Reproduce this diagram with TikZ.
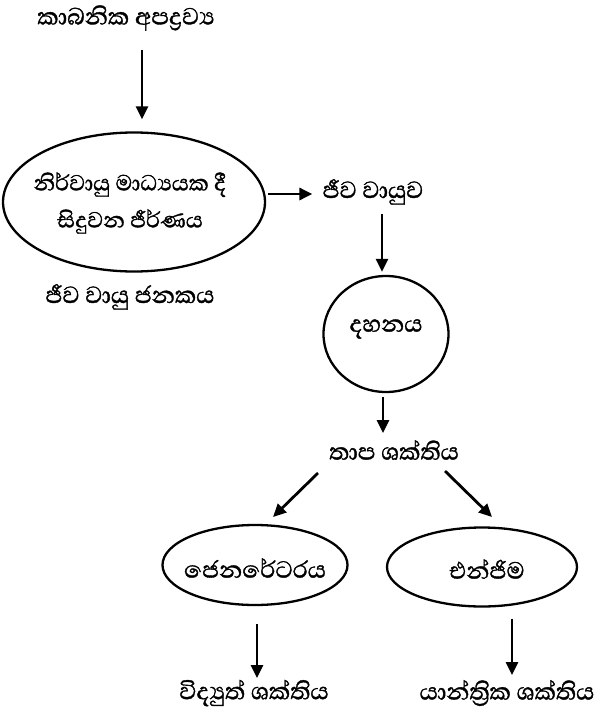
\documentclass[tikz,border=0pt]{standalone}
\usepackage{fontspec}
\newfontfamily\sinhalafont[Script=Sinhala, FakeBold=1.2]{Abhaya Libre}
\usetikzlibrary{arrows.meta,shapes.geometric,calc}
\begin{document}
\begin{tikzpicture}[x=1pt,y=-1pt,
  lbl/.style={font=\sinhalafont\fontsize{30}{37}\selectfont, inner sep=0pt, align=center},
  oval/.style={draw, line width=2.3pt, ellipse, inner sep=0pt},
  arr/.style={line width=2.8pt, -{Triangle[length=13pt,width=12pt]}}]
\useasboundingbox (0,0) rectangle (598,709);
\node[lbl] (t1) at (126,18) {කාබනික අපද්^^^^200dරව්^^^^200dය};
\node[oval, minimum width=262pt, minimum height=139pt] (e1) at (134,202) {};
\node[lbl, font=\sinhalafont\fontsize{28}{37}\selectfont] (e1t) at (130,203) {නිර්වායු මාධ්^^^^200dයයක දී\\සිදුවන ජීර්ණය};
\node[lbl] (gen) at (130,297) {ජීව වායු ජනකය};
\node[lbl] (gas) at (373,192) {ජීව වායුව};
\node[oval, minimum width=125pt, minimum height=116pt] (c1) at (386,334) {};
\node[lbl] (c1t) at (386,329) {දහනය};
\node[lbl] (heat) at (394,450) {තාප ශක්තිය};
\node[oval, minimum width=185pt, minimum height=80pt] (e2) at (255,565) {};
\node[lbl] (e2t) at (255,568) {ජෙනරේටරය};
\node[oval, minimum width=190pt, minimum height=79pt] (e3) at (482,567) {};
\node[lbl] (e3t) at (487,569) {එන්ජිම};
\node[lbl] (elec) at (254,693) {විද්^^^^200dයුත් ශක්තිය};
\node[lbl] (mech) at (507,693) {යාන්ත්^^^^200dරික ශක්තිය};
\draw[arr] ($(t1.center)+(16,32)$) -- ($(e1.north)+(8,-12)$);
\draw[arr] ($(e1.east)+(2,-8)$) -- ($(gas.west)+(-10,2)$);
\draw[arr] ($(gas.center)+(9,22)$) -- ($(c1.north)+(-4,-3)$);
\draw[arr] ($(c1.south)+(-3,4)$) -- ($(heat.center)+(-11,-17)$);
\draw[arr] ($(heat.center)+(-76,23)$) -- ($(e2.center)+(18,-48)$);
\draw[arr] ($(heat.center)+(51,21)$) -- ($(e3.center)+(10,-50)$);
\draw[arr] ($(e2.south)+(2,18)$) -- ($(elec.center)+(3,-15)$);
\draw[arr] ($(e3.south)+(30,11)$) -- ($(mech.center)+(5,-18)$);
\end{tikzpicture}
\end{document}
